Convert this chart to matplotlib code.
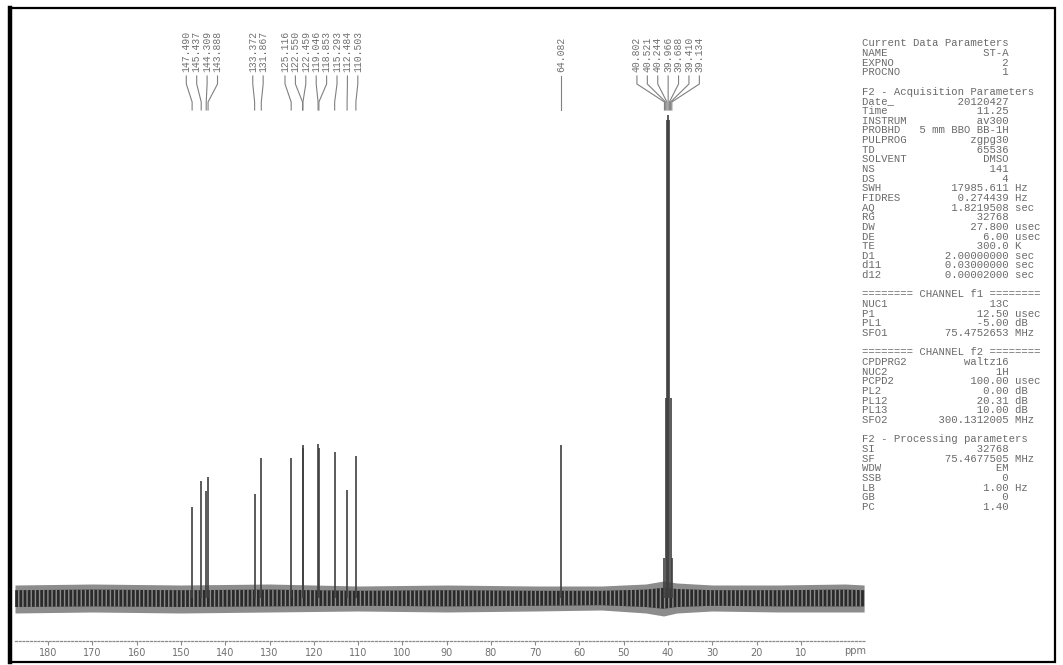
import numpy as np
import matplotlib
matplotlib.use("Agg")
import matplotlib.pyplot as plt
from matplotlib.patches import Rectangle
from matplotlib.lines import Line2D

# peak list (ppm) and heights above baseline (arbitrary units ~ pixels)
peak_ppm = [147.490, 145.437, 144.309, 143.888, 133.372, 131.867, 125.116,
            122.550, 122.459, 119.046, 118.853, 115.293, 112.484, 110.503,
            64.082,
            40.802, 40.521, 40.244, 39.966, 39.688, 39.410, 39.134]
peak_height = [91, 117, 107, 121, 104, 140, 140,
               150, 153, 154, 150, 146, 108, 142,
               153,
               40, 200, 478, 483, 478, 200, 40]

# baseline noise envelope
noise_ppm = [187.5, 170, 150, 130, 110, 90, 70, 55, 45, 41, 38, 30, 15, 0, -4.3]
noise_hi = [13, 14, 13, 14, 12, 13, 12, 12, 14, 17, 15, 13, 13, 14, 13]
noise_lo = [-15, -14, -15, -14, -13, -14, -13, -12, -15, -18, -15, -13, -14, -14, -14]

xticks = list(range(180, 0, -10))

params = [
    ("Current Data Parameters", None, None),
    ("NAME", "ST-A", None),
    ("EXPNO", "2", None),
    ("PROCNO", "1", None),
    ("", None, None),
    ("F2 - Acquisition Parameters", None, None),
    ("Date_", "20120427", None),
    ("Time", "11.25", None),
    ("INSTRUM", "av300", None),
    ("PROBHD", "5 mm BBO BB-1H", None),
    ("PULPROG", "zgpg30", None),
    ("TD", "65536", None),
    ("SOLVENT", "DMSO", None),
    ("NS", "141", None),
    ("DS", "4", None),
    ("SWH", "17985.611", "Hz"),
    ("FIDRES", "0.274439", "Hz"),
    ("AQ", "1.8219508", "sec"),
    ("RG", "32768", None),
    ("DW", "27.800", "usec"),
    ("DE", "6.00", "usec"),
    ("TE", "300.0", "K"),
    ("D1", "2.00000000", "sec"),
    ("d11", "0.03000000", "sec"),
    ("d12", "0.00002000", "sec"),
    ("", None, None),
    ("======== CHANNEL f1 ========", None, None),
    ("NUC1", "13C", None),
    ("P1", "12.50", "usec"),
    ("PL1", "-5.00", "dB"),
    ("SFO1", "75.4752653", "MHz"),
    ("", None, None),
    ("======== CHANNEL f2 ========", None, None),
    ("CPDPRG2", "waltz16", None),
    ("NUC2", "1H", None),
    ("PCPD2", "100.00", "usec"),
    ("PL2", "0.00", "dB"),
    ("PL12", "20.31", "dB"),
    ("PL13", "10.00", "dB"),
    ("SFO2", "300.1312005", "MHz"),
    ("", None, None),
    ("F2 - Processing parameters", None, None),
    ("SI", "32768", None),
    ("SF", "75.4677505", "MHz"),
    ("WDW", "EM", None),
    ("SSB", "0", None),
    ("LB", "1.00", "Hz"),
    ("GB", "0", None),
    ("PC", "1.40", None),
]


def spread_labels(pos, gap):
    # put overlapping labels side by side, centred on their peaks
    clusters = [[p] for p in pos]
    changed = True
    while changed:
        changed = False
        for i in range(len(clusters) - 1):
            a, b = clusters[i], clusters[i + 1]
            a_end = np.mean(a) - gap * (len(a) - 1) / 2
            b_start = np.mean(b) + gap * (len(b) - 1) / 2
            if a_end - b_start < gap:
                clusters[i] = a + b
                del clusters[i + 1]
                changed = True
                break
    out = []
    for c in clusters:
        m, n = np.mean(c), len(c)
        out += [m + gap * ((n - 1) / 2 - k) for k in range(n)]
    return out


W, H = 1063, 665
fig = plt.figure(figsize=(W / 100, H / 100), dpi=100)
fig.patch.set_facecolor("white")

# spectrum axes: pixel rows 10..641, baseline at row 598
ax = fig.add_axes([15 / W, (H - 641) / H, 850 / W, 631 / H])
base = 598
ax.set_xlim(187.5, -4.5)
ax.set_ylim(base - 641, base - 10)

ink = "#3f3f3f"
ax.fill_between(noise_ppm, noise_lo, noise_hi, color="#8c8c8c", lw=0)
ax.fill_between(noise_ppm, [v * 0.6 for v in noise_lo], [v * 0.6 for v in noise_hi],
                facecolor="#2a2a2a", edgecolor="#8c8c8c", hatch="||||", lw=0)
ax.vlines(peak_ppm, 0, peak_height, color=ink, lw=1.2)

# peak labels with connector legs
lab_ppm = spread_labels(peak_ppm, 2.35)
for p, lp in zip(peak_ppm, lab_ppm):
    ax.text(lp, base - 72, f"{p:.3f}", rotation=90, ha="center", va="bottom",
            fontsize=7, family="Liberation Mono", color="#707070")
    ax.plot([lp, lp, p, p], [base - 76, base - 84, base - 102, base - 110],
            color="#808080", lw=0.8, clip_on=False)

for s in ["top", "left", "right"]:
    ax.spines[s].set_visible(False)
ax.spines["bottom"].set_linestyle((0, (1.5, 1.5)))
ax.spines["bottom"].set_color("#8a8a8a")
ax.spines["bottom"].set_linewidth(0.9)
ax.set_yticks([])
ax.set_xticks(xticks)
ax.tick_params(axis="x", direction="out", length=3, width=0.8, color="#8a8a8a",
               labelsize=7, labelcolor="#707070", pad=2)
ax.text(-2.2, -53, "ppm", ha="center", va="center", fontsize=7, color="#707070")

# parameter block on the right
x0 = 861.7 / W
for i, (key, val, unit) in enumerate(params):
    if val is None:
        line = key
    else:
        line = f"{key:<8}{val:>15}" + (f" {unit}" if unit else "")
    y = 1 - (43.3 + 9.66 * i) / H
    fig.text(x0, y, line, ha="left", va="center", fontsize=7.7,
             family="Liberation Mono", color="#6a6a6a")

# scan frame
fig.add_artist(Rectangle((10 / W, 3 / H), 1045 / W, 654 / H, transform=fig.transFigure,
                         fill=False, ec="black", lw=1.6))
fig.add_artist(Line2D([10 / W, 10 / W], [3 / H, 657 / H], transform=fig.transFigure,
                      color="black", lw=3.2))

fig.savefig("out.png", dpi=100)
